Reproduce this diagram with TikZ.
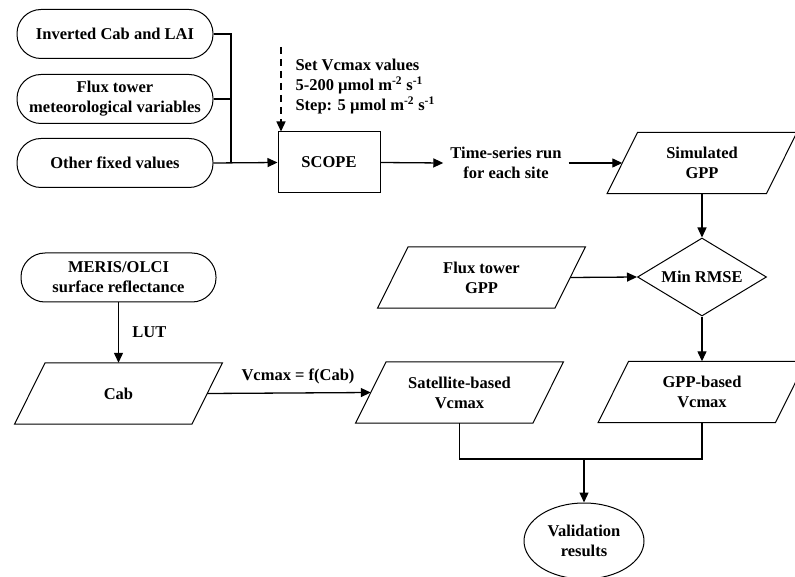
\documentclass[tikz,border=0pt]{standalone}
\usepackage{fontspec}
\setmainfont{Liberation Serif}
\usetikzlibrary{arrows.meta,shapes.geometric}
\newcommand{\drawpara}[1]{\draw[paraline] ([xshift=15.25pt]#1.north west) -- ([xshift=15.25pt]#1.north east) -- ([xshift=-15.25pt]#1.south east) -- ([xshift=-15.25pt]#1.south west) -- cycle;}
\begin{document}
\begin{tikzpicture}[x=1pt,y=-1pt,
  every node/.style={font=\fontsize{16.5}{20}\selectfont\bfseries, align=center},
  conn/.style={line width=1.3pt},
  arr/.style={line width=1.3pt, -{Triangle[length=10pt,width=9pt]}},
  stadium/.style={draw, line width=1pt, rounded corners=24pt, minimum width=196pt, minimum height=49pt, inner sep=0pt},
  procbox/.style={draw, line width=1pt, minimum width=102pt, minimum height=61pt, inner sep=0pt},
  para/.style={rectangle, minimum height=61pt, minimum width=177pt, inner sep=0pt},
  paraline/.style={line width=1pt, line join=miter},
  decision/.style={draw, line width=1pt, diamond, aspect=1.65, minimum width=129pt, minimum height=78pt, inner sep=0pt},
  term/.style={draw, line width=1pt, ellipse, minimum width=120pt, minimum height=76pt, inner sep=0pt}]
\useasboundingbox (0,0) rectangle (795,577);
\clip (0,0) rectangle (795,577);

\node[stadium] (inv) at (115,34) {Inverted Cab and LAI};
\node[stadium] (flux) at (115,99) {Flux tower\\meteorological variables};
\node[stadium] (other) at (115,163) {Other fixed values};
\node[procbox] (scope) at (329,162.5) {SCOPE};
\node[anchor=west, align=left] (setv) at (292,87) {Set Vcmax values\\5-200 µmol m\textsuperscript{-2} s\textsuperscript{-1}\\Step: 5 µmol m\textsuperscript{-2} s\textsuperscript{-1}};
\coordinate (dtop) at (281,47);
\node[inner xsep=7pt] (ts) at (506,163) {Time-series run\\for each site};
\node[para, minimum width=159pt] (sim) at (702,163) {Simulated\\GPP};
\node[decision] (rmse) at (702,277) {Min RMSE};
\node[para] (fgpp) at (481.5,277.5) {Flux tower\\GPP};
\node[stadium, minimum width=195pt] (meris) at (118.5,277.5) {MERIS/OLCI\\surface reflectance};
\node[para] (cab) at (118.5,393.5) {Cab};
\node[para] (sat) at (459.5,392.5) {Satellite-based\\Vcmax};
\node[para] (gppv) at (702,392) {GPP-based\\Vcmax};
\node[term] (val) at (584,541) {Validation\\results};
\coordinate (bus) at (231,163);
\coordinate (junc) at (584,459);

\drawpara{sim}
\drawpara{fgpp}
\drawpara{cab}
\drawpara{sat}
\drawpara{gppv}

\draw[conn] (inv.east) -| (bus);
\draw[conn] (flux.east) -- (flux.east -| bus);
\draw[arr] (other.east) -- (scope.west);
\draw[arr, dash pattern=on 7pt off 5pt] (dtop) -- (dtop |- scope.north);
\draw[arr] (scope.east) -- (ts.west);
\draw[arr] (ts.east) -- (sim.west);
\draw[arr] (sim.south) -- (rmse.north);
\draw[arr] (fgpp.east) -- (rmse.west);
\draw[arr] (rmse.south) -- (gppv.north);
\draw[arr] (meris.south) -- node[right=10pt] {LUT} (cab.north);
\draw[arr] (cab.east) -- node[above, yshift=5pt, xshift=9pt] {Vcmax = f(Cab)} (sat.west);
\draw[conn] (sat.south) |- (junc) -| (gppv.south);
\draw[arr] (junc) -- (val.north);
\end{tikzpicture}
\end{document}
